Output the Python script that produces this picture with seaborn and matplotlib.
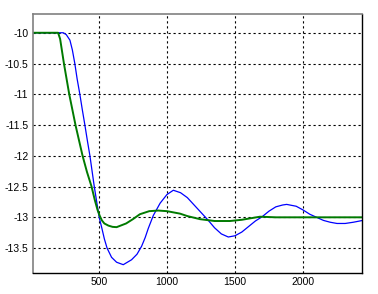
import matplotlib
matplotlib.use("Agg")
import matplotlib.pyplot as plt
import seaborn as sns
import pandas as pd

# Blue response
blue_x = [0, 200, 238, 260, 287, 305, 323, 340, 360, 378, 397, 415, 434, 450, 466, 484,
          502, 520, 540, 560, 593, 630, 679, 740, 780, 814, 840, 863, 900, 950, 1000, 1047,
          1100, 1150, 1200, 1250, 1300, 1350, 1400, 1451, 1500, 1550, 1600, 1650, 1700,
          1750, 1800, 1850, 1880, 1950, 2000, 2050, 2100, 2150, 2200, 2250, 2310, 2370,
          2440]
blue_y = [-10.0, -10.0, -10.0, -10.03, -10.12, -10.28, -10.5, -10.75, -11.0, -11.25, -11.5,
          -11.75, -12.0, -12.25, -12.5, -12.75, -13.0, -13.16, -13.35, -13.5, -13.65,
          -13.73, -13.77, -13.69, -13.6, -13.47, -13.33, -13.18, -12.97, -12.77, -12.63,
          -12.56, -12.6, -12.68, -12.8, -12.92, -13.04, -13.17, -13.27, -13.32, -13.3,
          -13.24, -13.15, -13.06, -12.99, -12.9, -12.83, -12.8, -12.79, -12.82, -12.88,
          -12.95, -13.0, -13.05, -13.08, -13.1, -13.1, -13.08, -13.05]

# Green response
green_x = [0, 200, 215, 243, 282, 328, 355, 380, 412, 446, 470, 490, 507, 522, 540, 570,
           600, 630, 700, 750, 801, 870, 936, 1000, 1096, 1150, 1243, 1350, 1463, 1550,
           1684, 1800, 2440]
green_y = [-10.0, -10.0, -10.1, -10.5, -11.0, -11.5, -11.76, -12.0, -12.26, -12.5, -12.72,
           -12.88, -12.98, -13.05, -13.1, -13.135, -13.155, -13.16, -13.1, -13.03, -12.95,
           -12.9, -12.89, -12.9, -12.94, -12.98, -13.03, -13.06, -13.06, -13.04, -12.99,
           -13.0, -13.0]

x_ticks = [500, 1000, 1500, 2000]
y_ticks = [-10, -10.5, -11, -11.5, -12, -12.5, -13, -13.5]
y_labels = ["-10", "-10.5", "-11", "-11.5", "-12", "-12.5", "-13", "-13.5"]

df_blue = pd.DataFrame({"x": blue_x, "y": blue_y})
df_green = pd.DataFrame({"x": green_x, "y": green_y})

sns.set_style("white")
plt.rcParams["font.family"] = ["Liberation Sans", "DejaVu Sans"]

fig = plt.figure(figsize=(3.78, 2.94), dpi=100)
ax = fig.add_axes([32.5 / 378, 1 - 273.3 / 294, (361.5 - 32.5) / 378, (273.3 - 14.3) / 294])

sns.lineplot(data=df_blue, x="x", y="y", ax=ax, color="#0000ff", linewidth=0.9, sort=False)
sns.lineplot(data=df_green, x="x", y="y", ax=ax, color="#007a00", linewidth=1.4, sort=False)

ax.set_xlim(12, 2430)
ax.set_ylim(-13.91, -9.7)
ax.set_xticks(x_ticks)
ax.set_xticklabels([str(t) for t in x_ticks])
ax.set_yticks(y_ticks)
ax.set_yticklabels(y_labels)
ax.set_xlabel("")
ax.set_ylabel("")
ax.grid(True, color="black", linestyle=(0, (2, 2.5)), linewidth=0.8)
ax.tick_params(direction="in", length=3, labelsize=7.5, pad=3, colors="black")
for side in ["left", "top"]:
    ax.spines[side].set_color("#808080")
    ax.spines[side].set_linewidth(1.2)
for side in ["right", "bottom"]:
    ax.spines[side].set_color("black")
    ax.spines[side].set_linewidth(1.0)

fig.savefig("out.png", dpi=100, facecolor="white")
